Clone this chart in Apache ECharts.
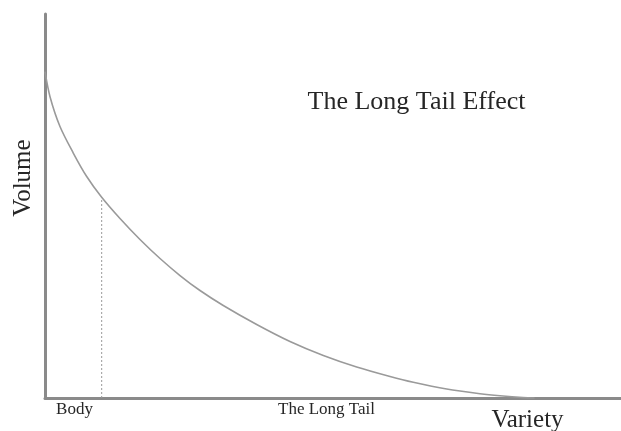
<!DOCTYPE html>
<html>
<head>
<meta charset="utf-8">
<script src="https://cdn.jsdelivr.net/npm/echarts@6/dist/echarts.min.js"></script>
<style>
html,body{margin:0;padding:0;background:#fff;}
#chart{width:621px;height:431px;}
</style>
</head>
<body>
<div id="chart"></div>
<script>
// Data (variety 0..100, volume 0..100)
const varietyX = [0, 0.87, 2.6, 4.91, 7.24, 9.84, 13.02, 16.49, 19.97, 23.44, 26.91, 30.95, 36.75, 42.53, 48.32, 54.11, 59.9, 63.94, 69.74, 75.52, 79.0, 83.0, 85.0];
const volumeY  = [84.97, 78.46, 70.7, 63.8, 57.68, 52.27, 46.74, 41.28, 36.33, 31.9, 27.99, 24.09, 19.14, 14.71, 11.07, 8.07, 5.6, 4.09, 2.34, 1.12, 0.57, 0.1, 0];
const bodyCutX = [9.84, 9.84];
const bodyCutY = [0, 52.27];
const labels = {
  title: 'The Long Tail Effect',
  yName: 'Volume',
  xName: 'Variety',
  body: 'Body',
  tail: 'The Long Tail'
};

const curve = varietyX.map((x, i) => [x, volumeY[i]]);
const cut = bodyCutX.map((x, i) => [x, bodyCutY[i]]);

const serif = '"Liberation Serif", "DejaVu Serif", serif';
const txt = '#262626';

const chart = echarts.init(document.getElementById('chart'), null, {renderer: 'canvas'});
chart.setOption({
  animation: false,
  backgroundColor: '#fff',
  grid: {left: 45, right: 0, top: 14, bottom: 33, containLabel: false},
  xAxis: {
    type: 'value', min: 0, max: 100,
    axisLine: {show: true, lineStyle: {color: '#8a8a8a', width: 3}},
    axisTick: {show: false}, axisLabel: {show: false}, splitLine: {show: false}
  },
  yAxis: {
    type: 'value', min: 0, max: 100,
    axisLine: {show: true, lineStyle: {color: '#8a8a8a', width: 3}},
    axisTick: {show: false}, axisLabel: {show: false}, splitLine: {show: false}
  },
  series: [
    {
      type: 'line', data: curve, smooth: 0.3,
      showSymbol: false, symbol: 'none',
      lineStyle: {color: '#9a9a9a', width: 1.6}
    },
    {
      type: 'line', data: cut, showSymbol: false, symbol: 'none',
      lineStyle: {color: '#9a9a9a', width: 1, type: [2, 2]}
    }
  ],
  graphic: [
    {type: 'text', x: 416.5, y: 102, style: {text: labels.title, font: '26px ' + serif, fill: txt, align: 'center', verticalAlign: 'middle'}},
    {type: 'text', x: 23, y: 178, rotation: Math.PI / 2, style: {text: labels.yName, font: '25px ' + serif, fill: txt, align: 'center', verticalAlign: 'middle'}},
    {type: 'text', x: 74.5, y: 410, style: {text: labels.body, font: '17px ' + serif, fill: txt, align: 'center', verticalAlign: 'middle'}},
    {type: 'text', x: 326.5, y: 410, style: {text: labels.tail, font: '17px ' + serif, fill: txt, align: 'center', verticalAlign: 'middle'}},
    {type: 'text', x: 527.5, y: 420, style: {text: labels.xName, font: '25px ' + serif, fill: txt, align: 'center', verticalAlign: 'middle'}}
  ]
});
</script>
</body>
</html>
